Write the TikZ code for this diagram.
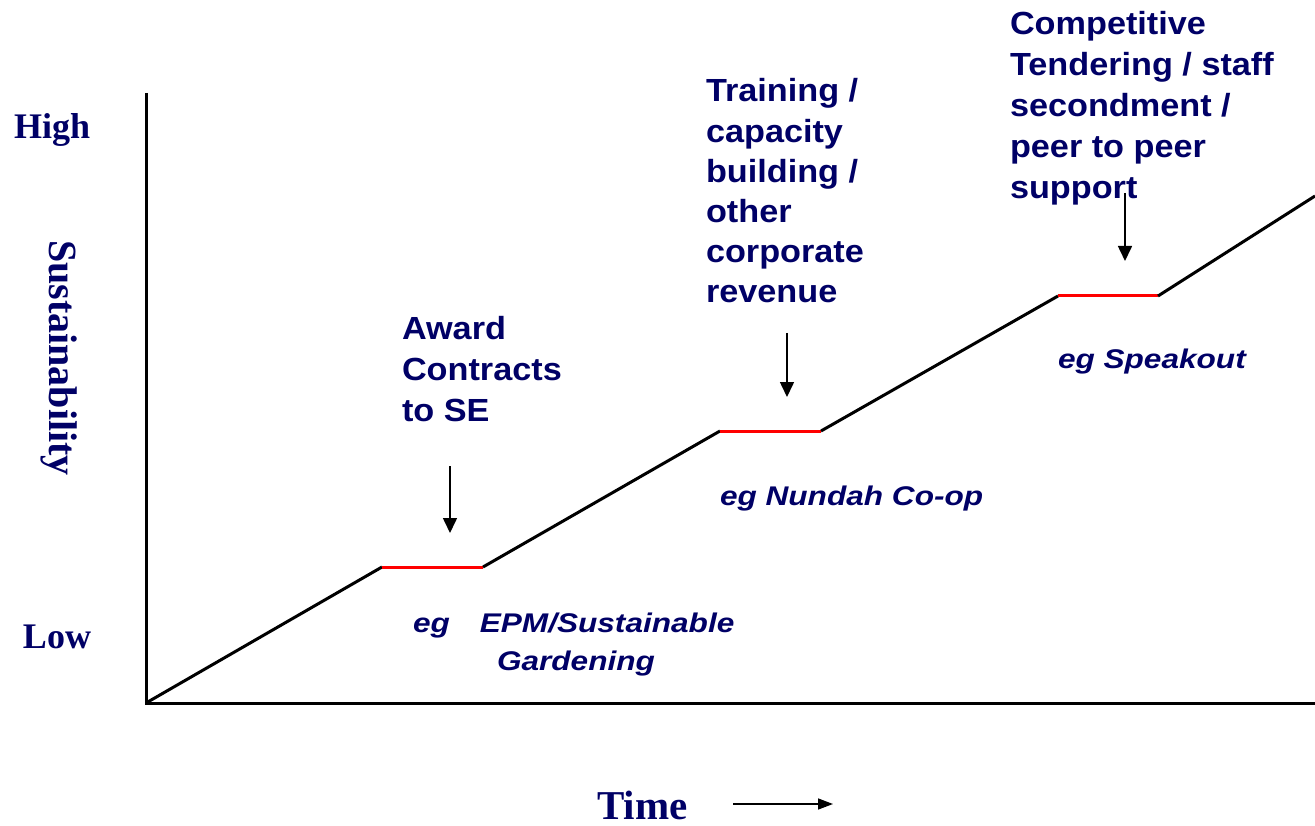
\documentclass[tikz,border=0pt]{standalone}
\usepackage{fontspec}
\setmainfont{Liberation Serif}
\newfontfamily\arialf{Liberation Sans}
\usetikzlibrary{arrows.meta}
\definecolor{navy}{RGB}{0,0,102}
\begin{document}
\begin{tikzpicture}[x=1pt,y=-1pt,
  lbl/.style={anchor=base west,inner sep=0,outer sep=0,text=navy,xscale=1.07,
    font=\arialf\bfseries\fontsize{32}{41}\selectfont,align=left},
  eglbl/.style={anchor=base west,inner sep=0,outer sep=0,text=navy,xscale=1.17,
    font=\arialf\bfseries\itshape\fontsize{27}{38}\selectfont,align=left},
  axlbl/.style={anchor=base west,inner sep=0,outer sep=0,text=navy,
    font=\bfseries\fontsize{36}{40}\selectfont},
  axisline/.style={line width=3pt,black},
  rise/.style={line width=3pt,black},
  flat/.style={line width=3pt,red},
  ptr/.style={line width=1.6pt,-{Triangle[length=15pt,width=14pt]}}]
\useasboundingbox (0,0) rectangle (1315,826);
% axes
\coordinate (O) at (146,703);
\coordinate (ytop) at (146,93);
\coordinate (xend) at (1315,703);
\draw[axisline] (ytop) -- (O) -- (xend);
% staircase
\coordinate (a1) at (382,567); \coordinate (a2) at (483,567);
\coordinate (b1) at (720,431); \coordinate (b2) at (821,431);
\coordinate (c1) at (1058,296); \coordinate (c2) at (1158,296);
\coordinate (dend) at (1315,196);
\draw[rise] (O) -- (a1);
\draw[flat] (a1) -- (a2);
\draw[rise] (a2) -- (b1);
\draw[flat] (b1) -- (b2);
\draw[rise] (b2) -- (c1);
\draw[flat] (c1) -- (c2);
\draw[rise] (c2) -- (dend);
% axis labels
\node[axlbl] (high) at (14,139) {High};
\node[axlbl] (low) at (23,648) {Low};
\node[text=navy,inner sep=0,rotate=-90,font=\bfseries\fontsize{40}{44}\selectfont] (sus) at (59,358) {Sustainability};
\node[axlbl,font=\bfseries\fontsize{41}{44}\selectfont] (time) at (597,819) {Time};
\coordinate (t1) at (733,804); \coordinate (t2) at (833,804);
\draw[line width=1.5pt,-{Triangle[length=15pt,width=11pt]}] (t1) -- (t2);
% labels (base anchor = baseline of last line)
\node[lbl] (award) at (402,421) {Award\\Contracts\\to SE};
\node[lbl,font=\arialf\bfseries\fontsize{32}{40.2}\selectfont] (training) at (706,303) {Training /\\capacity\\building /\\other\\corporate\\revenue};
\node[lbl] (comp) at (1010,199) {Competitive\\Tendering / staff\\secondment /\\peer to peer\\support};
\node[eglbl] (epm) at (413,670) {eg\hspace{25.6pt}EPM/Sustainable\\\hspace*{71.8pt}Gardening};
\node[eglbl] (nundah) at (720,505) {eg Nundah Co-op};
\node[eglbl] (speak) at (1058,369) {eg Speakout};
% pointers
\coordinate (p1s) at (450,466); \coordinate (p1e) at (450,533);
\coordinate (p2s) at (787,333); \coordinate (p2e) at (787,397);
\coordinate (p3s) at (1125,193); \coordinate (p3e) at (1125,261);
\draw[ptr] (p1s) -- (p1e);
\draw[ptr] (p2s) -- (p2e);
\draw[ptr] (p3s) -- (p3e);
\end{tikzpicture}
\end{document}
